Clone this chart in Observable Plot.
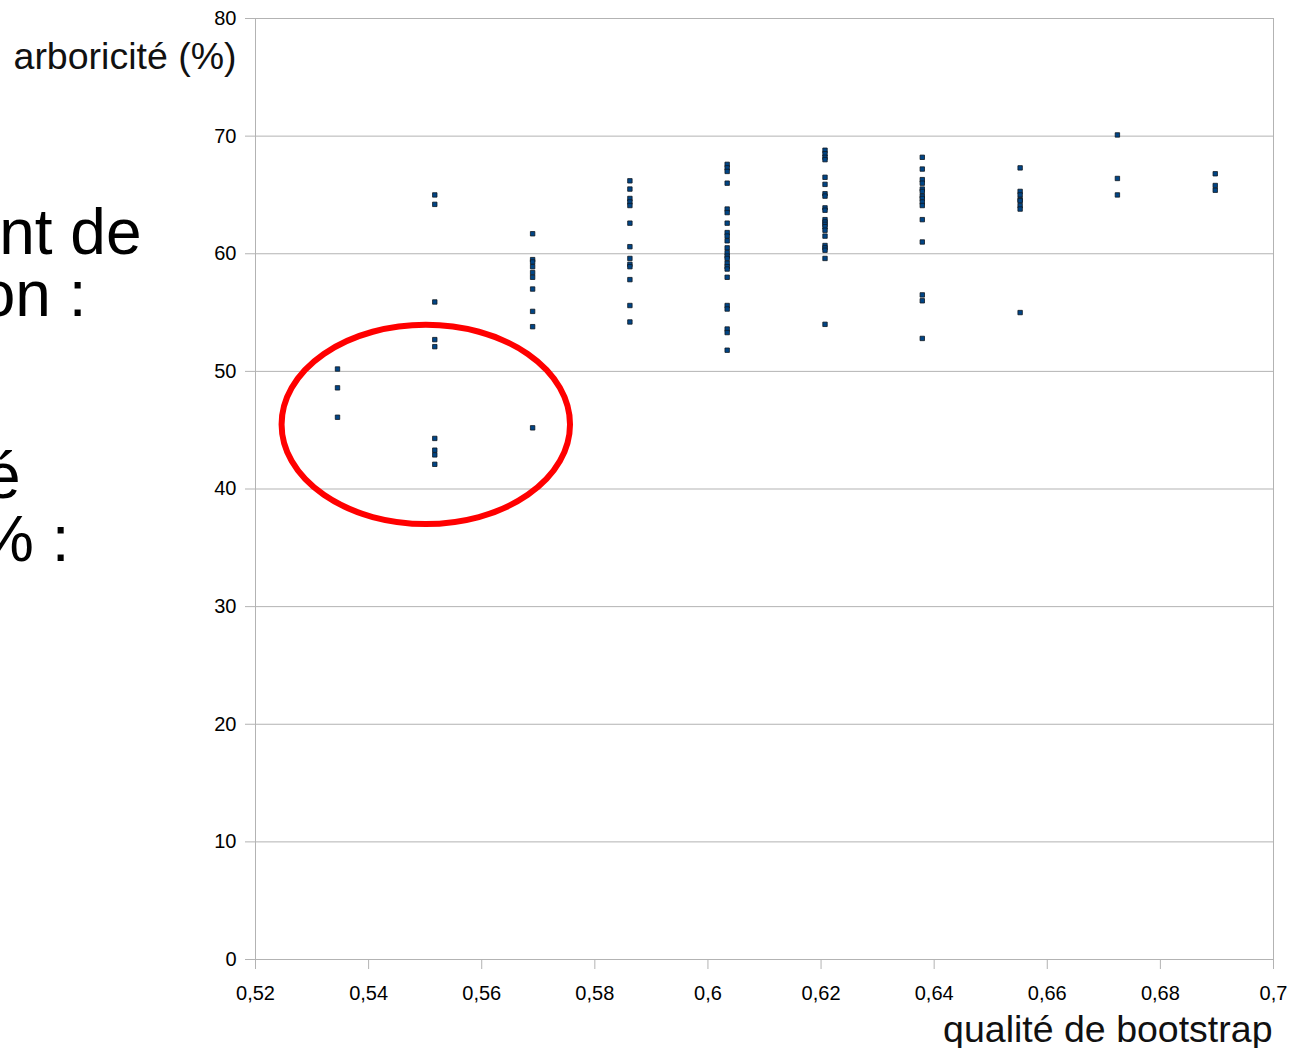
<!DOCTYPE html>
<html>
<head>
<meta charset="utf-8">
<script src="https://cdn.jsdelivr.net/npm/d3@7"></script>
<script src="https://cdn.jsdelivr.net/npm/@observablehq/plot@0.6"></script>
<style>
  html, body { margin: 0; padding: 0; background: #fff; overflow: hidden; }
  #chart svg { display: block; }
</style>
</head>
<body>
<div id="chart"></div>
<script>
// Bootstrap quality (x) columns
const qualite = [0.5345, 0.5517, 0.5690, 0.5862, 0.6034, 0.6207, 0.6379, 0.6552, 0.6724, 0.6897];

// Arboricity (%) values per column
const arbo0 = [50.2, 48.6, 46.1];
const arbo1 = [65.0, 64.2, 55.9, 52.7, 52.1, 44.3, 43.3, 42.9, 42.1];
const arbo2 = [61.7, 59.5, 59.3, 58.9, 58.4, 58.0, 57.0, 55.1, 53.8, 45.2];
const arbo3 = [66.2, 65.5, 64.7, 64.4, 64.1, 62.6, 60.6, 59.6, 59.1, 58.9, 57.8, 55.6, 54.2];
const arbo4 = [67.6, 67.3, 67.0, 66.0, 63.8, 63.5, 62.6, 61.8, 61.5, 61.1, 60.5, 60.1, 59.8, 59.6, 59.2, 58.9, 58.7, 58.0, 55.6, 55.3, 53.6, 53.3, 51.8];
const arbo5 = [68.8, 68.5, 68.2, 68.0, 66.5, 65.9, 65.1, 64.9, 63.9, 63.7, 62.9, 62.7, 62.5, 62.3, 62.0, 61.5, 60.7, 60.5, 60.3, 59.6, 54.0];
const arbo6 = [68.2, 67.2, 66.3, 66.0, 65.5, 65.3, 64.9, 64.7, 64.4, 64.1, 62.9, 61.0, 56.5, 56.0, 52.8];
const arbo7 = [67.3, 65.3, 65.0, 64.6, 64.5, 64.1, 63.8, 55.0];
const arbo8 = [70.1, 66.4, 65.0];
const arbo9 = [66.8, 65.8, 65.4];
const arboColumns = [arbo0, arbo1, arbo2, arbo3, arbo4, arbo5, arbo6, arbo7, arbo8, arbo9];

// Tick labels
const xTicks = [0.52, 0.54, 0.56, 0.58, 0.60, 0.62, 0.64, 0.66, 0.68, 0.70];
const xTickLabels = ["0,52", "0,54", "0,56", "0,58", "0,6", "0,62", "0,64", "0,66", "0,68", "0,7"];
const yTicks = [0, 10, 20, 30, 40, 50, 60, 70, 80];

// Highlight annotation (red ellipse), in data units
const ellipseCenter = {x: 0.5502, y: 45.45};
const ellipseRadius = {x: 0.0255, y: 8.47};

// Cut-off slide text on the left
const slideLines = [
  {text: "nt de", dx: -114, dy: 235},
  {text: "on :", dx: -169, dy: 297},
  {text: "é", dx: -235, dy: 479},
  {text: "% :", dx: -186, dy: 542}
];

const table = qualite.flatMap((q, i) => arboColumns[i].map(v => ({q, v})));

const font = "'Liberation Sans', Arial, sans-serif";
const grey = "#b3b3b3";

const chart = Plot.plot({
  width: 1293,
  height: 1048,
  marginLeft: 255,
  marginRight: 20,
  marginTop: 18,
  marginBottom: 89,
  style: {fontFamily: font, background: "#fff", color: "#000", overflow: "visible"},
  x: {domain: [0.52, 0.70]},
  y: {domain: [0, 80]},
  marks: [
    Plot.gridY(yTicks, {stroke: grey, strokeOpacity: 1, strokeWidth: 1}),
    Plot.frame({stroke: grey, strokeWidth: 1}),
    Plot.axisY(yTicks, {
      tickSize: 10, tickPadding: 9, fontSize: 20, stroke: grey, fill: "#000",
      label: null, tickFormat: d => String(d)
    }),
    Plot.axisX(xTicks, {
      tickSize: 10, tickPadding: 16, fontSize: 20, stroke: grey, fill: "#000",
      label: null, tickFormat: (d, i) => xTickLabels[i]
    }),
    Plot.dot(table, {
      x: "q", y: "v", symbol: "square", r: 2.5,
      fill: "#004586", stroke: "#101820", strokeWidth: 0.8
    }),
    Plot.text(["arboricité (%)"], {
      frameAnchor: "top-left", dx: -19, dy: 50, textAnchor: "end", lineAnchor: "bottom",
      fontSize: 37.5, fill: "#111"
    }),
    Plot.text(["qualité de bootstrap"], {
      frameAnchor: "bottom-right", dx: -1, dy: 82, textAnchor: "end", lineAnchor: "bottom",
      fontSize: 37.5, fill: "#111"
    }),
    ...slideLines.map(l => Plot.text([l.text], {
      frameAnchor: "top-left", dx: l.dx, dy: l.dy, textAnchor: "end", lineAnchor: "bottom",
      fontSize: 64, fill: "#000"
    }))
  ]
});

// Red ellipse positioned through the plot's own scales
const sx = chart.scale("x"), sy = chart.scale("y");
const cx = sx.apply(ellipseCenter.x), cy = sy.apply(ellipseCenter.y);
const rx = sx.apply(ellipseCenter.x + ellipseRadius.x) - cx;
const ry = sy.apply(ellipseCenter.y - ellipseRadius.y) - cy;
d3.select(chart).append("ellipse")
  .attr("cx", cx).attr("cy", cy).attr("rx", rx).attr("ry", ry)
  .attr("fill", "none").attr("stroke", "#ff0000").attr("stroke-width", 6);

document.getElementById("chart").appendChild(chart);
</script>
</body>
</html>
